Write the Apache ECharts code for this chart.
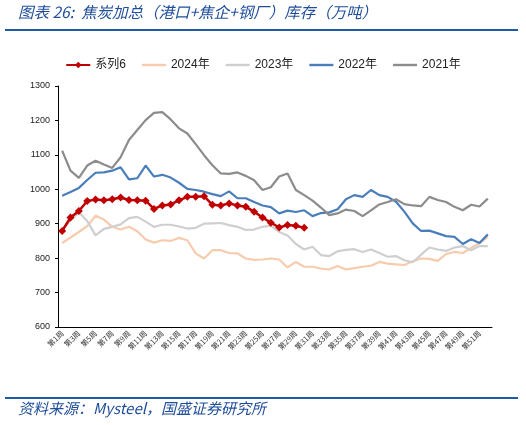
<!DOCTYPE html>
<html>
<head>
<meta charset="utf-8">
<script src="https://cdn.jsdelivr.net/npm/echarts@6/dist/echarts.min.js"></script>
<style>
html, body { margin: 0; padding: 0; background: #fff; }
#chart1 { width: 526px; height: 425px; }
</style>
</head>
<body>
<div id="chart1"></div>
<script>
// 周次
var weeks = [];
for (var w = 1; w <= 52; w++) weeks.push('第' + w + '周');

var yTicks = [600, 700, 800, 900, 1000, 1100, 1200, 1300];

// 系列6（2025年，至第30周）
var s6 = [879, 918, 937, 966, 970, 968, 971, 976, 969, 968, 967, 943, 953, 956, 968, 978,
          978, 980, 955, 953, 959, 953, 949, 935, 918, 903, 889, 896, 894, 888];
var y2024 = [844, 860, 876, 893, 923, 912, 891, 883, 891, 878, 854, 845, 852, 850, 859, 852,
             814, 799, 823, 823, 815, 814, 799, 795, 796, 799, 796, 773, 789, 775, 775, 770,
             767, 777, 767, 771, 775, 778, 789, 784, 782, 780, 791, 799, 798, 792, 812, 818,
             815, 830, 843, 862];
var y2023 = [881, 910, 933, 908, 866, 885, 891, 898, 916, 920, 906, 891, 897, 897, 892, 886,
             888, 900, 901, 902, 896, 891, 882, 883, 891, 894, 876, 866, 841, 825, 833, 809,
             806, 820, 824, 826, 818, 825, 815, 804, 806, 794, 788, 810, 831, 825, 821, 831,
             835, 823, 835, 835];
var y2022 = [981, 992, 1004, 1027, 1048, 1049, 1054, 1064, 1029, 1032, 1069, 1037, 1042, 1034, 1019, 1001,
             998, 993, 986, 980, 994, 974, 974, 963, 953, 948, 930, 938, 934, 939, 922, 931,
             933, 942, 971, 983, 978, 998, 983, 978, 964, 935, 901, 879, 880, 872, 864, 862,
             841, 855, 844, 869];
var y2021 = [1112, 1054, 1033, 1069, 1083, 1072, 1062, 1093, 1143, 1172, 1201, 1222, 1224, 1203, 1177, 1162,
             1131, 1099, 1070, 1046, 1045, 1049, 1039, 1026, 998, 1006, 1037, 1046, 998, 983, 967, 947,
             925, 930, 941, 937, 922, 939, 956, 963, 971, 957, 953, 951, 978, 969, 963, 949,
             939, 955, 950, 973];

var seriesNames = ['系列6', '2024年', '2023年', '2022年', '2021年'];
var lineColors = ['#c00000', '#f8cbad', '#cfcfcf', '#4a7ebb', '#8c8c8c'];

var font = '"Liberation Sans", Arial, "Noto Sans CJK SC", sans-serif';
var titleBlue = '#1f4e9a';
var lineIcon = 'path://M0,0 L24,0 L24,2.4 L0,2.4 Z'; // 图例：纯线条

function lineSeries(idx, data, z) {
    return {
        name: seriesNames[idx],
        type: 'line',
        data: data,
        symbol: 'none',
        showSymbol: false,
        z: z,
        lineStyle: { color: lineColors[idx], width: 2.2 },
        itemStyle: { color: lineColors[idx] },
        animation: false
    };
}

var legendData = seriesNames.map(function (n, i) {
    return i === 0 ? { name: n } : { name: n, icon: lineIcon };
});

var option = {
    backgroundColor: '#fff',
    textStyle: { fontFamily: font },
    graphic: [
        {
            type: 'text', left: 18, top: 4,
            style: {
                text: '图表 26:  焦炭加总（港口+焦企+钢厂）库存（万吨）',
                fontFamily: '"Noto Sans CJK SC", sans-serif',
                fontStyle: 'italic', fontSize: 15.5, fill: titleBlue
            }
        },
        {
            type: 'line', shape: { x1: 5, y1: 30, x2: 518, y2: 30 },
            style: { stroke: '#1f5aa6', lineWidth: 2 }
        },
        {
            type: 'line', shape: { x1: 5, y1: 398, x2: 518, y2: 398 },
            style: { stroke: '#1f5aa6', lineWidth: 2 }
        },
        {
            type: 'text', left: 18, top: 401,
            style: {
                text: '资料来源：Mysteel，国盛证券研究所',
                fontFamily: '"Noto Sans CJK SC", sans-serif',
                fontStyle: 'italic', fontSize: 15, fill: titleBlue
            }
        }
    ],
    legend: {
        top: 54,
        left: 'center',
        itemWidth: 24,
        itemHeight: 8,
        itemGap: 16,
        textStyle: { fontSize: 12, color: '#222', fontFamily: font },
        data: legendData
    },
    grid: {
        left: 58,
        right: 34,
        top: 86,
        bottom: 98
    },
    xAxis: {
        type: 'category',
        data: weeks,
        boundaryGap: true,
        axisLine: { lineStyle: { color: '#000', width: 1 } },
        axisTick: { inside: true, length: 3, interval: 0, lineStyle: { color: '#000' } },
        axisLabel: {
            interval: 1,
            rotate: 45,
            fontSize: 7.5,
            color: '#333',
            margin: 5,
            fontFamily: '"Noto Sans CJK SC", sans-serif'
        },
        splitLine: { show: false }
    },
    yAxis: {
        type: 'value',
        min: yTicks[0],
        max: yTicks[yTicks.length - 1],
        interval: 100,
        axisLine: { show: true, lineStyle: { color: '#000', width: 1 } },
        axisTick: { show: true, length: 3, lineStyle: { color: '#000' } },
        axisLabel: {
            fontSize: 9, color: '#222', margin: 8,
            formatter: function (v) { return String(v); }
        },
        splitLine: { show: false }
    },
    series: [
        {
            name: seriesNames[0],
            type: 'line',
            data: s6,
            symbol: 'diamond',
            symbolSize: 8,
            showAllSymbol: true,
            z: 10,
            lineStyle: { color: lineColors[0], width: 2.5 },
            itemStyle: { color: lineColors[0] },
            animation: false
        },
        lineSeries(1, y2024, 2),
        lineSeries(2, y2023, 3),
        lineSeries(3, y2022, 4),
        lineSeries(4, y2021, 5)
    ]
};

var myChart = echarts.init(document.getElementById('chart1'));
myChart.setOption(option);
</script>
</body>
</html>
